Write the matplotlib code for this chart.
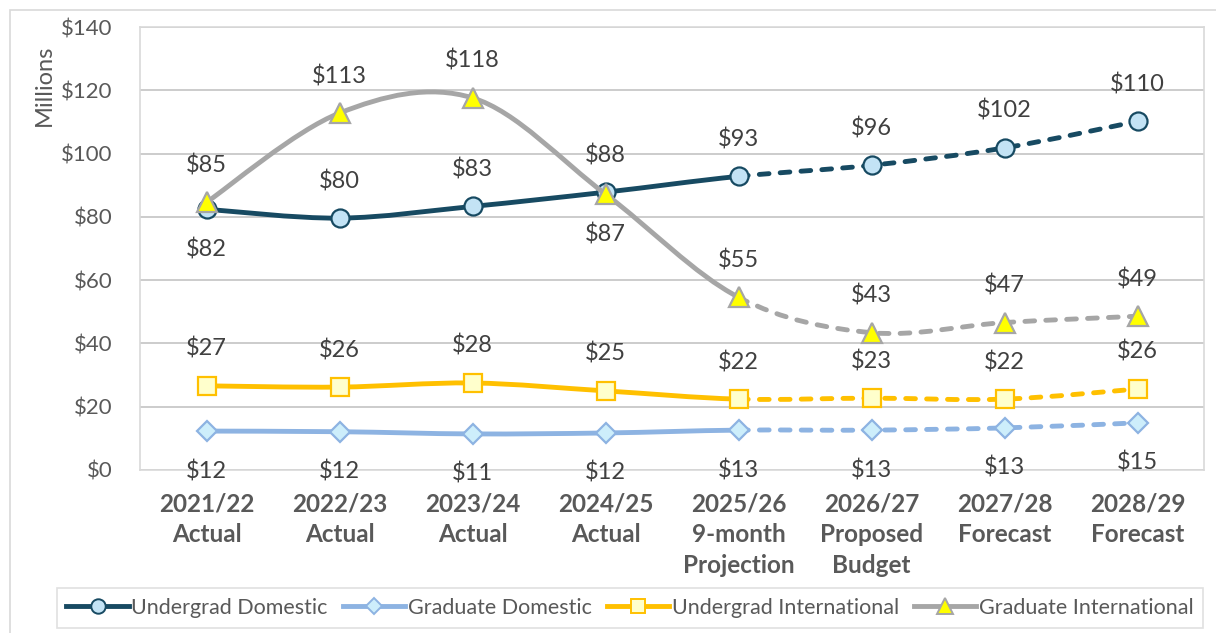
import matplotlib
matplotlib.use("Agg")
import matplotlib.pyplot as plt
import numpy as np
from matplotlib.path import Path
from matplotlib.patches import PathPatch, Rectangle
from matplotlib.lines import Line2D

# ---------------- data ----------------
categories = ["2021/22\nActual", "2022/23\nActual", "2023/24\nActual", "2024/25\nActual",
              "2025/26\n9-month\nProjection", "2026/27\nProposed\nBudget",
              "2027/28\nForecast", "2028/29\nForecast"]
undergrad_domestic = [82.4, 79.6, 83.3, 87.8, 92.8, 96.3, 101.8, 110.2]
graduate_domestic = [12.3, 12.1, 11.4, 11.7, 12.6, 12.6, 13.3, 14.9]
undergrad_international = [26.6, 26.2, 27.5, 25.0, 22.4, 22.7, 22.4, 25.6]
graduate_international = [84.6, 112.8, 117.6, 87.2, 54.6, 43.4, 46.6, 48.6]
series_names = ["Undergrad Domestic", "Graduate Domestic", "Undergrad International", "Graduate International"]
# label placement: 'a' above, 'b' below
ud_pos = ['b', 'a', 'a', 'a', 'a', 'a', 'a', 'a']
gd_pos = ['b'] * 8
ui_pos = ['a'] * 8
gi_pos = ['a', 'a', 'a', 'b', 'a', 'a', 'a', 'a']
split_index = 4  # actual/projection solid up to here, dashed afterwards

FONT = ["Lato", "DejaVu Sans"]
plt.rcParams['font.family'] = FONT

W, H = 1216, 633
fig = plt.figure(figsize=(W / 100, H / 100), dpi=100)
fig.patch.set_facecolor("white")

# outer chart border
fig.patches.append(Rectangle((10 / W, -0.1), 1.2, 1 - 10 / H + 0.1, transform=fig.transFigure,
                             fill=False, edgecolor="#d9d9d9", linewidth=1.2))

ax = fig.add_axes([140 / W, 1 - 470 / H, (1204 - 140) / W, (470 - 27) / H])
ax.set_xlim(-0.5, 7.5)
ax.set_ylim(0, 140)
ax.set_yticks(np.arange(0, 141, 20))
ax.set_yticklabels([f"${v}" for v in range(0, 141, 20)])
ax.yaxis.grid(True, color="#c8c8c8", linewidth=1.3)
ax.set_axisbelow(True)
for s in ax.spines.values():
    s.set_color("#d9d9d9")
    s.set_linewidth(1.2)
ax.tick_params(axis='y', length=0, pad=20, labelsize=16, labelcolor="#595959")
x = np.arange(len(categories))
ax.set_xticks(x)
ax.set_xticklabels(categories, fontweight="bold", linespacing=1.42)
ax.tick_params(axis='x', length=0, pad=16, labelsize=17.5, labelcolor="#595959")

fig.text(44 / W, 1 - 85 / H, "Millions", rotation=90, ha="center", va="center",
         fontsize=17, color="#595959")


def smooth_path(xs, ys, i0, i1):
    pts = np.column_stack([xs, ys]).astype(float)
    n = len(pts)
    verts = [pts[i0]]
    codes = [Path.MOVETO]
    for i in range(i0, i1):
        pm = pts[max(i - 1, 0)]
        p0 = pts[i]
        p1 = pts[i + 1]
        p2 = pts[min(i + 2, n - 1)]
        c1 = p0 + (p1 - pm) / 6.0
        c2 = p1 - (p2 - p0) / 6.0
        verts += [c1, c2, p1]
        codes += [Path.CURVE4] * 3
    return Path(verts, codes)


styles = [
    dict(vals=undergrad_domestic, color="#174a62", marker="o", mfc="#c3e3f5", ms=13, pos=ud_pos),
    dict(vals=graduate_domestic, color="#8db3e2", marker="D", mfc="#cdeefb", ms=10.5, pos=gd_pos),
    dict(vals=undergrad_international, color="#ffc000", marker="s", mfc="#ffffcc", ms=12.5, pos=ui_pos),
    dict(vals=graduate_international, color="#a6a6a6", marker="^", mfc="#ffff00", ms=14, pos=gi_pos),
]
LW = 3.5
handles = []
for k, st in enumerate(styles):
    z = 3 + k
    p1 = smooth_path(x, st["vals"], 0, split_index)
    p2 = smooth_path(x, st["vals"], split_index, len(x) - 1)
    ax.add_patch(PathPatch(p1, fill=False, edgecolor=st["color"], linewidth=LW,
                           capstyle="round", joinstyle="round", zorder=z))
    ax.add_patch(PathPatch(p2, fill=False, edgecolor=st["color"], linewidth=LW,
                           linestyle=(0, (2.0, 2.3)), capstyle="round", zorder=z))
    ax.plot(x, st["vals"], linestyle="none", marker=st["marker"], ms=st["ms"],
            mfc=st["mfc"], mec=st["color"], mew=1.6, zorder=z + 0.5, clip_on=False)
    for xi, v, p in zip(x, st["vals"], st["pos"]):
        off = 37 if p == 'a' else -40
        ax.annotate(f"${round(v):d}", (xi, v), xytext=(0, off), textcoords="offset pixels",
                    ha="center", va="center", fontsize=17, color="#404040",
                    annotation_clip=False, zorder=10)
    handles.append(Line2D([], [], color=st["color"], lw=LW, marker=st["marker"],
                          ms=st["ms"] * 0.8, mfc=st["mfc"], mec=st["color"], mew=1.4))

leg = fig.legend(handles, series_names, loc="center", ncol=4,
                 bbox_to_anchor=(630 / W, 1 - 608 / H), fontsize=15.5,
                 handlelength=2.9, handletextpad=0.12, columnspacing=0.7,
                 frameon=True, fancybox=False, borderpad=0.45)
leg.get_frame().set_edgecolor("#d9d9d9")
leg.get_frame().set_linewidth(1.2)
for t in leg.get_texts():
    t.set_color("#595959")

fig.savefig("out.png", dpi=100, facecolor="white")
